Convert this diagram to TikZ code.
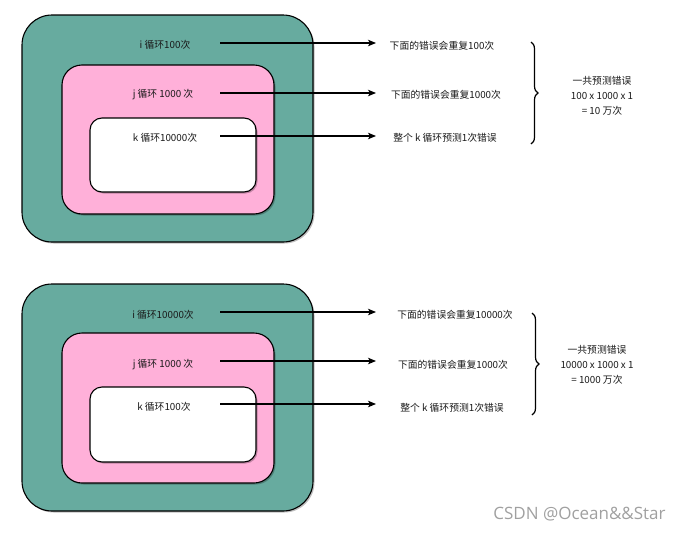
\documentclass[tikz,border=0pt]{standalone}
\usepackage{fontspec}
\setmainfont{Noto Sans CJK SC}
\newfontfamily\markfont{Open Sans}
\usetikzlibrary{arrows.meta,decorations.pathreplacing,shadows}
\definecolor{loopteal}{HTML}{67AB9F}
\definecolor{looppink}{HTML}{FFB0D9}
\definecolor{markgray}{HTML}{A0A0A0}
\tikzset{
  loopbox/.style={draw=black, line width=1.1pt, rectangle, inner sep=0pt,
    drop shadow={shadow xshift=1.5pt, shadow yshift=-1.5pt, fill=black, opacity=0.25}},
  label/.style={font=\fontsize{9.8}{11}\selectfont, inner sep=0pt, text=black!90},
  flow/.style={line width=1.2pt, -{Stealth[length=8pt,width=6.5pt,inset=2pt]}},
  sumbrace/.style={decorate, decoration={brace, amplitude=7pt, raise=0pt}, line width=1.2pt},
}
\begin{document}
\begin{tikzpicture}[x=1pt,y=-1pt]
\useasboundingbox (0,0) rectangle (686,533);

% ---------- first nesting: i 100, j 1000, k 10000 ----------
\node[loopbox, fill=loopteal, rounded corners=30pt, minimum width=291pt, minimum height=227pt] (outerA) at (167.5,128.5) {};
\node[loopbox, fill=looppink, rounded corners=20pt, minimum width=212pt, minimum height=149pt] (midA) at (168,139.5) {};
\node[loopbox, fill=white, rounded corners=12pt, minimum width=166pt, minimum height=74pt] (innerA) at (173,155) {};

\node[label] (iA) at (165,45) {i 循环100次};
\node[label] (jA) at (163,95) {j 循环 1000 次};
\node[label] (kA) at (165,138) {k 循环10000次};

\coordinate (s1A) at (220,43);
\coordinate (e1A) at (376,43);
\coordinate (s2A) at (220,93);
\coordinate (e2A) at (376,93);
\coordinate (s3A) at (220,136);
\coordinate (e3A) at (376,136);
\draw[flow] (s1A) -- (e1A);
\draw[flow] (s2A) -- (e2A);
\draw[flow] (s3A) -- (e3A);

\node[label] (r1A) at (442,45.5) {下面的错误会重复100次};
\node[label] (r2A) at (446,95) {下面的错误会重复1000次};
\node[label] (r3A) at (445,137.5) {整个 k 循环预测1次错误};

\coordinate (btA) at (531,42);
\coordinate (bbA) at (531,144);
\draw[sumbrace] (btA) -- (bbA);

\node[label, align=center, font=\fontsize{9.8}{15}\selectfont] (sumA) at (602,96) {一共预测错误\\100 x 1000 x 1\\= 10 万次};

% ---------- second nesting: i 10000, j 1000, k 100 ----------
\node[loopbox, fill=loopteal, rounded corners=30pt, minimum width=291pt, minimum height=227pt] (outerB) at (167.5,397.5) {};
\node[loopbox, fill=looppink, rounded corners=20pt, minimum width=212pt, minimum height=150pt] (midB) at (168,408) {};
\node[loopbox, fill=white, rounded corners=12pt, minimum width=166pt, minimum height=75pt] (innerB) at (173,424.5) {};

\node[label] (iB) at (163,315) {i 循环10000次};
\node[label] (jB) at (163,365) {j 循环 1000 次};
\node[label] (kB) at (164,407) {k 循环100次};

\coordinate (s1B) at (220,312);
\coordinate (e1B) at (376,312);
\coordinate (s2B) at (220,361);
\coordinate (e2B) at (376,361);
\coordinate (s3B) at (220,404);
\coordinate (e3B) at (376,404);
\draw[flow] (s1B) -- (e1B);
\draw[flow] (s2B) -- (e2B);
\draw[flow] (s3B) -- (e3B);

\node[label] (r1B) at (455,315) {下面的错误会重复10000次};
\node[label] (r2B) at (453,364.5) {下面的错误会重复1000次};
\node[label] (r3B) at (452,407.5) {整个 k 循环预测1次错误};

\coordinate (btB) at (532,313);
\coordinate (bbB) at (532,415);
\draw[sumbrace] (btB) -- (bbB);

\node[label, align=center, font=\fontsize{9.8}{15}\selectfont] (sumB) at (597,365) {一共预测错误\\10000 x 1000 x 1\\= 1000 万次};

% ---------- watermark ----------
\node[font=\markfont\fontsize{17}{19}\selectfont, text=markgray, inner sep=0pt] (mark) at (579.5,514) {CSDN @Ocean\&\&Star};
\end{tikzpicture}
\end{document}
